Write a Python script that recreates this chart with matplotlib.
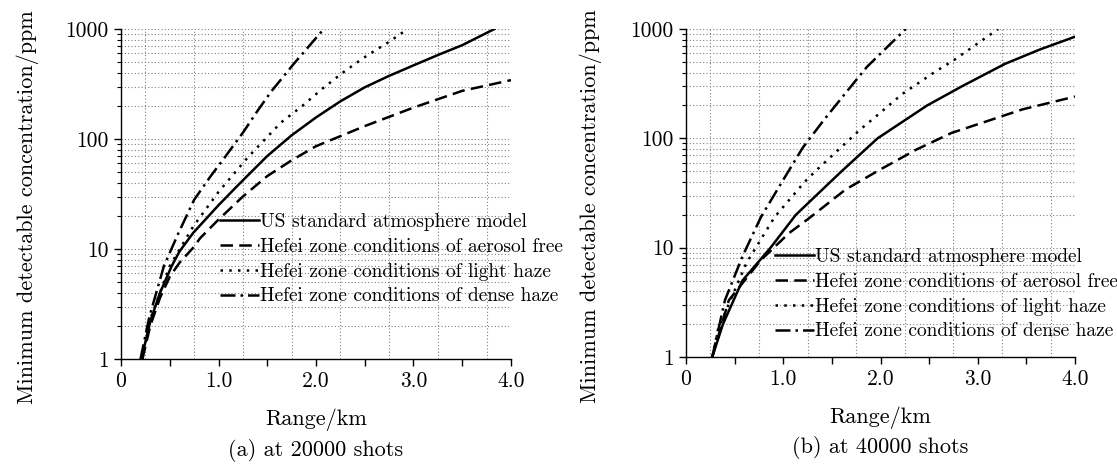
import matplotlib
matplotlib.use("Agg")
import matplotlib.pyplot as plt
from matplotlib.ticker import FixedLocator, FixedFormatter, NullFormatter

plt.rcParams["font.family"] = "serif"
plt.rcParams["font.serif"] = ["cmr10", "DejaVu Serif"]
plt.rcParams["axes.formatter.use_mathtext"] = True
plt.rcParams["axes.unicode_minus"] = False

# ---- (a) 20000 shots ----
a_us_x = [0.21, 0.30, 0.40, 0.52, 0.60, 0.74, 0.90, 1.00, 1.20, 1.50, 1.75, 2.00, 2.25, 2.50, 2.75, 3.00, 3.25, 3.50, 3.83]
a_us_y = [1, 2.2, 4, 7, 9.5, 14, 20, 25, 38, 70, 108, 157, 220, 295, 375, 467, 580, 713, 1000]

a_free_x = [0.22, 0.30, 0.40, 0.50, 0.60, 0.75, 0.81, 1.00, 1.25, 1.50, 1.75, 2.00, 2.50, 3.00, 3.50, 4.00]
a_free_y = [1, 2, 3.6, 5.6, 7.5, 10.5, 12.5, 18.5, 30, 46, 64, 86, 131, 193, 274, 343]

a_light_x = [0.22, 0.30, 0.50, 0.74, 1.00, 1.30, 1.64, 1.86, 2.08, 2.30, 2.52, 2.74, 2.94]
a_light_y = [1, 2.3, 7, 16, 33, 68, 141, 200, 294, 417, 571, 755, 1000]

a_dense_x = [0.20, 0.29, 0.44, 0.59, 0.75, 0.92, 1.03, 1.25, 1.40, 1.54, 1.77, 2.08]
a_dense_y = [1, 2.4, 7, 14, 28, 46, 62, 114, 180, 270, 480, 1000]

# ---- (b) 40000 shots ----
b_us_x = [0.27, 0.38, 0.58, 0.87, 1.13, 1.60, 1.97, 2.48, 2.84, 3.28, 3.64, 4.00]
b_us_y = [1, 2, 5, 10, 20, 50, 100, 200, 300, 480, 650, 850]

b_free_x = [0.27, 0.44, 0.77, 1.06, 1.28, 1.64, 2.00, 2.37, 2.73, 3.10, 3.46, 4.00]
b_free_y = [1, 3.3, 7.7, 13.6, 19, 34, 52, 79, 112, 144, 184, 241]

b_light_x = [0.27, 0.33, 0.62, 0.91, 1.22, 1.35, 1.57, 1.79, 2.00, 2.22, 2.55, 2.77, 2.99, 3.21]
b_light_y = [1, 1.8, 7.2, 19, 40, 52, 79, 120, 172, 253, 400, 530, 728, 1000]

b_dense_x = [0.27, 0.40, 0.58, 0.77, 0.98, 1.20, 1.42, 1.64, 1.86, 2.02, 2.26]
b_dense_y = [1, 3.3, 8.3, 19, 39, 82, 148, 259, 450, 620, 1000]

labels = ["US standard atmosphere model",
          "Hefei zone conditions of aerosol free",
          "Hefei zone conditions of light haze",
          "Hefei zone conditions of dense haze"]

y_ticks = [1, 10, 100, 1000]
y_minor = [m * d for d in (1, 10, 100) for m in range(2, 10)]
x_major = [0, 0.5, 1.0, 1.5, 2.0, 2.5, 3.0, 3.5, 4.0]
x_labels = ["0", "", "1.0", "", "2.0", "", "3.0", "", "4.0"]
x_grid = [0.25, 0.75, 1.25, 1.75, 2.25, 2.75, 3.25, 3.75]

panels = [
    ("(a) at 20000 shots", [121, 112, 390, 330],
     [(a_us_x, a_us_y), (a_free_x, a_free_y), (a_light_x, a_light_y), (a_dense_x, a_dense_y)],
     (0.254, 0.442), -0.211),
    ("(b) at 40000 shots", [686, 114, 389, 328],
     [(b_us_x, b_us_y), (b_free_x, b_free_y), (b_light_x, b_light_y), (b_dense_x, b_dense_y)],
     (0.229, 0.332), -0.216),
]

styles = [
    dict(ls="-", lw=1.8),
    dict(ls=(0, (5, 2.5)), lw=1.8),
    dict(ls=(0, (1, 2.5)), lw=1.8),
    dict(ls=(0, (6, 2, 1, 2)), lw=1.8),
]

W, H = 1117, 471
fig = plt.figure(figsize=(W / 100, H / 100), dpi=100)

for caption, box, series, leg_pos, ylab_x in panels:
    ax = fig.add_axes([box[0] / W, box[1] / H, box[2] / W, box[3] / H])
    ax.set_yscale("log")
    ax.set_xlim(0, 4.0)
    ax.set_ylim(1, 1000)

    # grid: dotted, y at every minor + major, x at odd quarters
    for v in y_minor + [10, 100, 1000]:
        ax.axhline(v, color="#808080", ls=(0, (1, 2)), lw=0.8, zorder=0)
    for v in x_grid:
        ax.axvline(v, color="#808080", ls=(0, (1, 2)), lw=0.8, zorder=0)

    for (xs, ys), lab, st in zip(series, labels, styles):
        ax.plot(xs, ys, color="black", label=lab, **st)

    ax.yaxis.set_major_locator(FixedLocator(y_ticks))
    ax.yaxis.set_major_formatter(FixedFormatter([str(t) for t in y_ticks]))
    ax.yaxis.set_minor_locator(FixedLocator(y_minor))
    ax.yaxis.set_minor_formatter(NullFormatter())
    ax.xaxis.set_major_locator(FixedLocator(x_major))
    ax.xaxis.set_major_formatter(FixedFormatter(x_labels))
    ax.tick_params(axis="both", which="major", direction="out", length=5,
                   width=1, labelsize=15.5, pad=4)
    ax.tick_params(axis="y", which="minor", direction="out", length=3, width=0.8)

    for s in ("top", "right"):
        ax.spines[s].set_visible(False)
    for s in ("left", "bottom"):
        ax.spines[s].set_linewidth(1.0)

    ax.set_ylabel("Minimum detectable concentration/ppm", fontsize=16)
    ax.yaxis.set_label_coords(ylab_x, 0.46)
    ax.set_xlabel("Range/km", fontsize=16)
    ax.xaxis.set_label_coords(0.5, -0.15)
    ax.text(0.5, -0.276, caption, transform=ax.transAxes, ha="center",
            va="center", fontsize=16)

    ax.legend(loc="upper left", bbox_to_anchor=leg_pos, frameon=False,
              fontsize=14, handlelength=2.0, handletextpad=0.05,
              labelspacing=0.35, borderpad=0, borderaxespad=0)

fig.savefig("out.png", dpi=100)
